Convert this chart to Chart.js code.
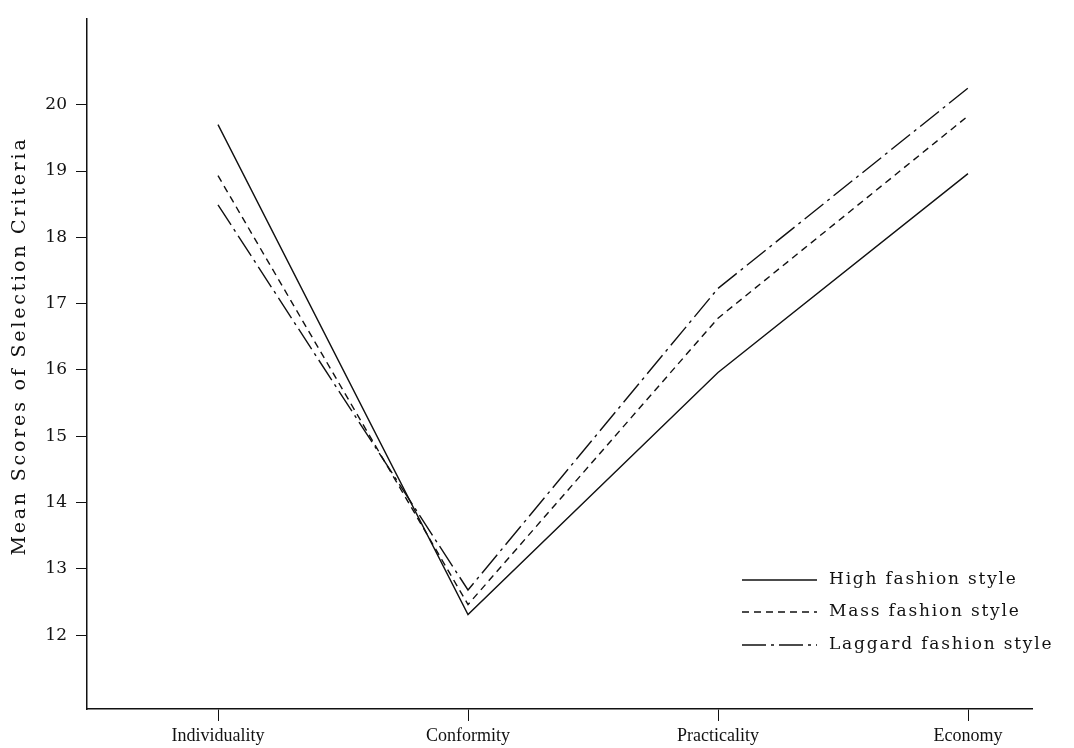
<!DOCTYPE html>
<html>
<head>
<meta charset="utf-8">
<script src="https://cdn.jsdelivr.net/npm/chart.js@4/dist/chart.umd.min.js"></script>
<style>
  html, body { margin: 0; padding: 0; background: #fff; }
  #wrap { width: 1074px; height: 748px; position: relative; }
</style>
</head>
<body>
<div id="wrap"><canvas id="chart" width="1074" height="748"></canvas></div>
<script>
// categories along the x axis
var categories = ["Individuality", "Conformity", "Practicality", "Economy"];

// mean scores
var highFashion = [19.7, 12.31, 15.96, 18.96];
var massFashion = [18.93, 12.46, 16.78, 19.83];
var laggardFashion = [18.49, 12.68, 17.23, 20.25];

var yTicks = [12, 13, 14, 15, 16, 17, 18, 19, 20];
var seriesNames = ["High fashion style", "Mass fashion style", "Laggard fashion style"];
var yTitle = "Mean Scores of Selection Criteria";

function toPoints(arr) {
  return arr.map(function(v, i) { return { x: i, y: v }; });
}

var serif = "'DejaVu Serif', 'Liberation Serif', serif";

// Draw the y title and the legend by hand so spacing matches the scan
var extras = {
  id: 'extras',
  afterDraw: function(chart) {
    var ctx = chart.ctx;
    ctx.save();
    ctx.fillStyle = "#111";
    ctx.font = "19px " + serif;
    if ('letterSpacing' in ctx) ctx.letterSpacing = "2.8px";
    ctx.translate(20, 346);
    ctx.rotate(-Math.PI / 2);
    ctx.textAlign = "center";
    ctx.textBaseline = "middle";
    ctx.fillText(yTitle, 0, 0);
    ctx.restore();

    // legend inside the plot, lower right
    var rows = [580, 612, 645];
    chart.data.datasets.forEach(function(ds, i) {
      var y = rows[i];
      ctx.save();
      ctx.strokeStyle = "#111";
      ctx.lineWidth = 1.3;
      ctx.setLineDash(ds.borderDash || []);
      ctx.beginPath();
      ctx.moveTo(742, y);
      ctx.lineTo(817, y);
      ctx.stroke();
      ctx.setLineDash([]);
      ctx.fillStyle = "#111";
      ctx.font = "17px " + serif;
      if ('letterSpacing' in ctx) ctx.letterSpacing = "1.8px";
      ctx.textAlign = "left";
      ctx.textBaseline = "middle";
      ctx.fillText(seriesNames[i], 829, y);
      ctx.restore();
    });
  }
};

var ctx = document.getElementById("chart");
var chart = new Chart(ctx, {
  type: "line",
  data: {
    datasets: [
      { label: seriesNames[0], data: toPoints(highFashion), borderColor: "#111", borderWidth: 1.4, borderDash: [] },
      { label: seriesNames[1], data: toPoints(massFashion), borderColor: "#111", borderWidth: 1.4, borderDash: [7, 5] },
      { label: seriesNames[2], data: toPoints(laggardFashion), borderColor: "#111", borderWidth: 1.4, borderDash: [24, 5, 3, 5] }
    ]
  },
  options: {
    responsive: false,
    animation: false,
    devicePixelRatio: 1,
    layout: { padding: { top: 9, right: 42, left: 0, bottom: 0 } },
    elements: { point: { radius: 0 }, line: { tension: 0, fill: false } },
    plugins: { legend: { display: false }, tooltip: { enabled: false } },
    scales: {
      x: {
        type: "linear",
        min: -0.524,
        max: 3.256,
        afterBuildTicks: function(scale) {
          scale.ticks = categories.map(function(c, i) { return { value: i }; });
        },
        afterFit: function(scale) { scale.height = 39; },
        border: { display: true, color: "#111", width: 1.5 },
        grid: { drawOnChartArea: false, drawTicks: true, tickLength: 12, color: "#111", tickColor: "#111", lineWidth: 1 },
        ticks: {
          padding: 4,
          color: "#111",
          autoSkip: false,
          maxRotation: 0,
          minRotation: 0,
          font: { family: "'Liberation Serif', serif", size: 18 },
          callback: function(v) { return categories[v]; }
        }
      },
      y: {
        type: "linear",
        min: 10.885,
        max: 21.29,
        afterBuildTicks: function(scale) {
          scale.ticks = yTicks.map(function(v) { return { value: v }; });
        },
        afterFit: function(scale) { scale.width = 87; },
        border: { display: true, color: "#111", width: 1.5 },
        grid: { drawOnChartArea: false, drawTicks: true, tickLength: 11, color: "#111", tickColor: "#111", lineWidth: 1 },
        ticks: {
          padding: 9,
          color: "#111",
          autoSkip: false,
          font: { family: serif, size: 17 }
        }
      }
    }
  },
  plugins: [extras]
});
</script>
</body>
</html>
